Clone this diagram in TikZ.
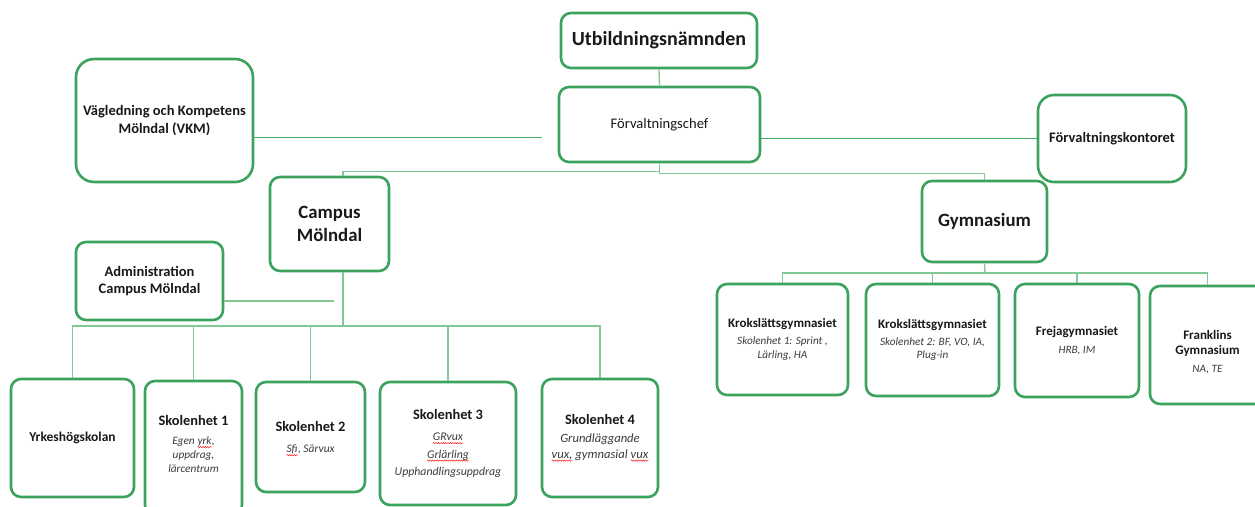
\documentclass[tikz,border=0pt]{standalone}
\usepackage{fontspec}
\setmainfont{Carlito}
\usetikzlibrary{decorations.pathmorphing}

% colours of the chart
\definecolor{boxgreen}{RGB}{60,163,94}
\definecolor{linegreen}{RGB}{128,200,150}
\definecolor{darkline}{RGB}{70,170,100}
\definecolor{txt}{RGB}{25,25,25}
\definecolor{subtxt}{RGB}{60,60,60}

% red spelling squiggle under a word
\newcommand{\sqw}[1]{\tikz[baseline=(w.base), x=1cm, y=1cm]{%
  \node[draw=none, fill=none, inner sep=0pt, outer sep=0pt, rounded corners=0pt,
    minimum width=0pt, minimum height=0pt, text=subtxt] (w) {#1};
  \draw[red, line width=0.4pt, rounded corners=0pt, decorate,
    decoration={snake, amplitude=0.7pt, segment length=2.4pt}]
    ([yshift=-2.3pt]w.base west) -- ([yshift=-2.3pt]w.base east);}}

\tikzset{
  unit/.style={draw=boxgreen, line width=2.6pt, rounded corners=10pt,
    fill=white, align=center, text=txt, inner sep=2pt},
  conn/.style={draw=linegreen, line width=1.3pt},
  side/.style={draw=darkline, line width=1.1pt},
  head/.style={font=\bfseries\fontsize{#1}{1.2\dimexpr#1pt\relax}\selectfont},
  note/.style={font=\itshape\fontsize{#1}{1.22\dimexpr#1pt\relax}\selectfont},
}
\newcommand{\sub}[1]{{\itshape\color{subtxt}#1}}
\newcommand{\ttl}[2][13]{{\bfseries\upshape\fontsize{#1}{#1}\selectfont #2}}

\begin{document}
\begin{tikzpicture}[x=1pt, y=-1pt]

  % page size of the chart
  \clip (0,0) rectangle (1255,506);

  % top of the chart
  \node[unit, minimum width=196pt, minimum height=55pt, head=20] (utb) at (659,40.5) {Utbildningsnämnden};
  \node[unit, minimum width=201pt, minimum height=75pt, font=\fontsize{14.6}{16}\selectfont] (chef) at (659.5,124.5) {Förvaltningschef};
  \node[unit, rounded corners=18pt, minimum width=177pt, minimum height=123pt, head=14.5] (vkm) at (164.5,120.5) {Vägledning och Kompetens\\ Mölndal (VKM)};
  \node[unit, rounded corners=16pt, minimum width=148pt, minimum height=87pt, head=14.5] (kontor) at (1112,138.5) {Förvaltningskontoret};

  % the two branches
  \node[unit, minimum width=119pt, minimum height=94pt, head=18.8] (campus) at (329.5,224) {Campus\\ Mölndal};
  \node[unit, minimum width=125pt, minimum height=81pt, head=18.8] (gym) at (984.5,221.5) {Gymnasium};
  \node[unit, minimum width=147pt, minimum height=78pt, head=14.5] (admin) at (149.5,281) {Administration\\ Campus Mölndal};

  % units under Campus Mölndal
  \node[unit, minimum width=123pt, minimum height=118pt, head=13.5] (yh) at (72.5,438) {Yrkeshögskolan};
  \node[unit, minimum width=97pt, minimum height=134pt, note=11.3] (sk1) at (193.5,448)
    {\ttl[14.4]{Skolenhet 1}\\[5pt]
     \sub{Egen \sqw{yrk},}\\ \sub{uppdrag,}\\ \sub{lärcentrum}\\[-6pt]};
  \node[unit, minimum width=109pt, minimum height=110pt, note=11.5] (sk2) at (310.5,437)
    {\ttl[14.4]{\rule{0pt}{14pt}Skolenhet 2}\\[7pt]
     \sub{\sqw{Sfi}, Särvux}};
  \node[unit, minimum width=136pt, minimum height=123pt, note=11.8] (sk3) at (448,443.5)
    {\ttl[14.4]{Skolenhet 3}\\[7pt]
     \sub{\sqw{GRvux}}\\[3pt] \sub{\sqw{Grlärling}}\\[3pt] \sub{Upphandlingsuppdrag}};
  \node[unit, minimum width=116pt, minimum height=118pt, note=12.6] (sk4) at (600,438)
    {\ttl[14.4]{Skolenhet 4}\\[3pt]
     \sub{Grundläggande}\\ \sub{\sqw{vux,} gymnasial \sqw{vux}}};

  % schools under Gymnasium
  \node[unit, minimum width=131pt, minimum height=111pt, note=11.2] (kg1) at (782.5,339.5)
    {\ttl{Krokslättsgymnasiet}\\[3pt]
     \sub{Skolenhet 1: Sprint ,}\\ \sub{Lärling, HA}};
  \node[unit, minimum width=133pt, minimum height=112pt, note=11.2] (kg2) at (932.5,340)
    {\ttl{Krokslättsgymnasiet}\\[3pt]
     \sub{Skolenhet 2: BF, VO, IA,}\\ \sub{Plug-in}};
  \node[unit, minimum width=124pt, minimum height=113pt, note=11.2] (frej) at (1077,340.5)
    {\ttl{Frejagymnasiet}\\[5pt]
     \sub{HRB, IM}};
  \node[unit, minimum width=115pt, minimum height=118pt, note=11.2] (frank) at (1207.5,345)
    {\ttl{\rule{0pt}{24pt}Franklins}\\[1pt] \ttl{Gymnasium}\\[5pt]
     \sub{NA, TE}};

  % free ends and bus points of the lines
  \coordinate (vkmend) at (542,137.5);
  \coordinate (admend) at (334,301);
  \coordinate (cbus) at (343,326);
  \coordinate (gbus) at (985,273);

  % lines between the units
  \draw[conn] (utb.south) -- (chef.north);
  \draw[side] (vkm.east |- vkmend) -- (vkmend);
  \draw[side] (chef.east |- kontor.west) -- (kontor.west);
  \draw[conn] (chef.south) -- ([yshift=-8pt]chef.south) -| ([xshift=13.5pt]campus.north);
  \draw[conn] (chef.south) -- ([yshift=-10pt]chef.south) -| (gym.north);
  \draw[conn] (admin.east |- admend) -- (admend);
  \draw[conn] ([xshift=13.5pt]campus.south) -- (cbus);
  \foreach \n in {yh,sk1,sk2,sk3,sk4}
    \draw[conn] (cbus) -| (\n.north);
  \draw[conn] (gym.south) -- (gbus);
  \foreach \n in {kg1,kg2,frej,frank}
    \draw[conn] (gbus) -| (\n.north);

\end{tikzpicture}
\end{document}
